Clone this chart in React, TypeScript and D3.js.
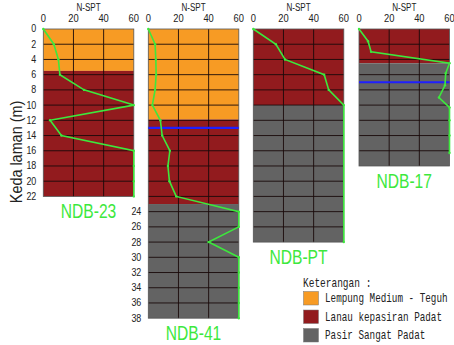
import React from 'react';
import * as d3 from 'd3';

// N-SPT readings per borehole: [depth (m), N]
const ndb23: [number, number][] = [
  [0, 0], [2, 7], [4, 10], [6, 11], [8, 27], [10, 60], [12, 4.5], [14, 12],
  [16, 60], [18, 60], [20, 60], [22, 60],
];
const ndb41: [number, number][] = [
  [0, 0], [2, 4.5], [4, 5], [6, 5.2], [8, 4.5], [10, 2.7], [12, 8], [14, 9.2],
  [16, 14.3], [18, 13], [20, 14], [22, 18.5], [24, 60], [26, 60], [28, 40],
  [30, 60], [32, 60], [34, 60], [36, 60], [38, 60],
];
const ndbPT: [number, number][] = [
  [0, 0], [2, 15], [4, 21], [6, 47], [8, 50], [10, 60], [28, 60],
];
const ndb17: [number, number][] = [
  [0, 0], [1.6, 6], [3, 8], [4.5, 60], [5.8, 57.5], [7.4, 57], [9, 53],
  [10.3, 60], [12, 60], [14, 60], [16.3, 60],
];

// soil layers: [top, bottom, soil type]
const layers23: [number, number, number][] = [[0, 5.5, 0], [5.5, 22, 1]];
const layers41: [number, number, number][] = [[0, 11.9, 0], [11.9, 23, 1], [23, 38, 2]];
const layersPT: [number, number, number][] = [[0, 10, 1], [10, 28, 2]];
const layers17: [number, number, number][] = [[0, 4.5, 1], [4.5, 18, 2]];

const waterTable41 = 13;
const waterTable17 = 7;

const soilNames = ['Lempung Medium - Teguh', 'Lanau kepasiran Padat', 'Pasir Sangat Padat'];
const soilColors = ['#f79b24', '#921b1e', '#636363'];
const nTicks = [0, 20, 40, 60];

const boreholes = [
  { name: 'NDB-23', data: ndb23, layers: layers23, depth: 22, water: null as number | null, left: 43.3, ticks: d3.range(0, 23, 2) },
  { name: 'NDB-41', data: ndb41, layers: layers41, depth: 38, water: waterTable41, left: 148.3, ticks: d3.range(24, 39, 2) },
  { name: 'NDB-PT', data: ndbPT, layers: layersPT, depth: 28, water: null as number | null, left: 253.3, ticks: [] as number[] },
  { name: 'NDB-17', data: ndb17, layers: layers17, depth: 18, water: waterTable17, left: 359, ticks: [] as number[] },
];

const TOP = 29;
const PX_PER_M = 7.61;
const PANEL_W = 90.5;
const GREEN = '#3de83d';
const sans = '"Liberation Sans", Arial, sans-serif';
const mono = '"Liberation Mono", "DejaVu Sans Mono", monospace';

// condensed text: squeeze horizontally around the anchor point
const squeeze = (x: number, y: number, sx: number, sy = 1) =>
  `translate(${x},${y}) scale(${sx},${sy}) translate(${-x},${-y})`;

const Panel: React.FC<{ b: typeof boreholes[number] }> = ({ b }) => {
  const x = d3.scaleLinear().domain([0, 60]).range([b.left, b.left + PANEL_W]);
  const y = d3.scaleLinear().domain([0, b.depth]).range([TOP, TOP + b.depth * PX_PER_M]);
  const line = d3.line<[number, number]>().x(d => x(d[1])).y(d => y(d[0]));
  const grid = d3.range(2, b.depth, 2);
  const titleY = y(b.depth) + 22;
  return (
    <g>
      {b.layers.map(([t, bt, s], i) => (
        <rect key={i} x={x(0)} y={y(t)} width={x(60) - x(0)} height={y(bt) - y(t)} fill={soilColors[s]} />
      ))}
      {grid.map(d => (
        <line key={'h' + d} x1={x(0)} x2={x(60)} y1={y(d)} y2={y(d)} stroke="#1a0a0a" strokeWidth={0.9} />
      ))}
      {[20, 40].map(v => (
        <line key={'v' + v} x1={x(v)} x2={x(v)} y1={y(0)} y2={y(b.depth)} stroke="#1a0a0a" strokeWidth={0.9} />
      ))}
      <rect x={x(0)} y={y(0)} width={x(60) - x(0)} height={y(b.depth) - y(0)} fill="none" stroke="#555" strokeWidth={0.8} />
      {b.water !== null && (
        <line x1={x(0)} x2={x(60)} y1={y(b.water)} y2={y(b.water)} stroke="#1f1fff" strokeWidth={2.2} />
      )}
      <path d={line(b.data) || ''} fill="none" stroke={GREEN} strokeWidth={1.6} />
      {b.data.map((d, i) => (
        <circle key={'p' + i} cx={x(d[1])} cy={y(d[0])} r={1.2} fill={GREEN} />
      ))}
      <text x={x(30)} y={11} textAnchor="middle" fontSize={9.5} fontFamily={sans} fill="#222"
        transform={squeeze(x(30), 11, 0.85, 1.1)}>N-SPT</text>
      {nTicks.map(v => (
        <text key={'t' + v} x={x(v)} y={22} textAnchor="middle" fontSize={11} fontFamily={sans} fill="#222"
          transform={squeeze(x(v), 22, 0.85)}>{v}</text>
      ))}
      {b.ticks.map(d => (
        <text key={'y' + d} x={b.left - 7} y={y(d) + 3.5} textAnchor="end" fontSize={10.5} fontFamily={sans} fill="#222"
          transform={squeeze(b.left - 7, y(d) + 3.5, 0.85)}>{d}</text>
      ))}
      <text x={x(30)} y={titleY} textAnchor="middle" fontSize={19.5} fontFamily={sans} fill={GREEN}
        transform={squeeze(x(30), titleY, 0.8)}>{b.name}</text>
    </g>
  );
};

export default function App() {
  return (
    <svg width={454} height={345} style={{ display: 'block', position: 'absolute', left: 0, top: 0, background: '#fff' }}>
      {boreholes.map(b => <Panel key={b.name} b={b} />)}
      <text transform="translate(22,152) rotate(-90) scale(0.9,1)" textAnchor="middle" fontSize={16} fontFamily={sans} fill="#222">
        Keda laman  (m)
      </text>
      <text x={303} y={287} fontSize={10} fontFamily={mono} fill="#222"
        transform={squeeze(303, 287, 0.95, 1.2)}>Keterangan :</text>
      {soilNames.map((s, i) => (
        <g key={s}>
          <rect x={303.5} y={291.5 + i * 18.5} width={15} height={13.5} fill={soilColors[i]} stroke="#777" strokeWidth={0.5} />
          <text x={325} y={302.5 + i * 18.5} fontSize={10} fontFamily={mono} fill="#222"
            transform={squeeze(325, 302.5 + i * 18.5, 0.93, 1.2)}>{s}</text>
        </g>
      ))}
    </svg>
  );
}
